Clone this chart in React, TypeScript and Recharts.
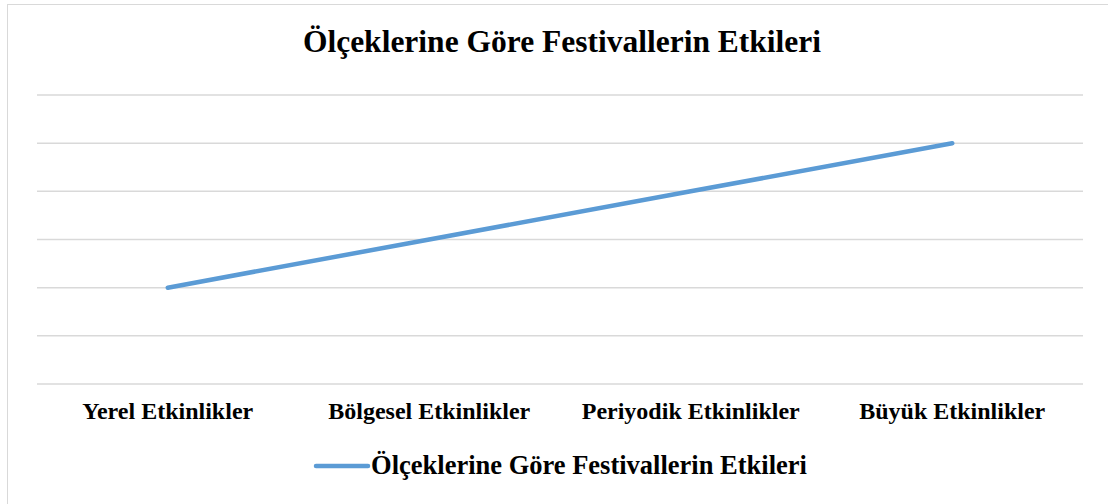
import { CartesianGrid, Legend, Line, LineChart, XAxis, YAxis } from "recharts";

const CATEGORIES = [
  "Yerel Etkinlikler",
  "Bölgesel Etkinlikler",
  "Periyodik Etkinlikler",
  "Büyük Etkinlikler",
];
const VALUES = [2, 3, 4, 5];
const Y_TICKS = [0, 1, 2, 3, 4, 5, 6];
const SERIES_NAME = "Ölçeklerine Göre Festivallerin Etkileri";
const TITLE = "Ölçeklerine Göre Festivallerin Etkileri";

const data = CATEGORIES.map((name, i) => ({ name, value: VALUES[i] }));

const FONT = '"Liberation Serif", "Times New Roman", serif';
const BLUE = "#5b9bd5";

function LegendContent() {
  return (
    <div
      style={{
        display: "flex",
        justifyContent: "center",
        alignItems: "center",
        fontFamily: FONT,
        fontWeight: "bold",
        fontSize: 26.5,
        color: "#000",
        marginTop: -4,
      }}
    >
      <svg width={58} height={10}>
        <line x1={3} y1={5} x2={55} y2={5} stroke={BLUE} strokeWidth={4.5} strokeLinecap="round" />
      </svg>
      <span>{SERIES_NAME}</span>
    </div>
  );
}

export default function App() {
  return (
    <div
      style={{
        position: "absolute",
        left: 0,
        top: 0,
        width: 1108,
        height: 504,
        background: "#fff",
        overflow: "hidden",
      }}
    >
      <div
        style={{
          position: "absolute",
          left: 7,
          top: 4,
          width: 1200,
          height: 600,
          border: "1.5px solid #d9d9d9",
        }}
      />
      <div
        style={{
          position: "absolute",
          left: 0,
          top: 24,
          width: 1124,
          textAlign: "center",
          fontFamily: FONT,
          fontWeight: "bold",
          fontSize: 31.5,
          color: "#000",
        }}
      >
        {TITLE}
      </div>
      <div style={{ position: "absolute", left: 0, top: 0 }}>
        <LineChart
          width={1108}
          height={504}
          data={data}
          margin={{ top: 95, right: 25, left: 37, bottom: 0 }}
        >
          <CartesianGrid vertical={false} stroke="#d9d9d9" strokeWidth={1.5} />
          <XAxis
            dataKey="name"
            scale="band"
            axisLine={false}
            tickLine={false}
            height={70}
            tick={{ fontFamily: FONT, fontWeight: "bold", fontSize: 24, fill: "#000" }}
            tickMargin={12}
            interval={0}
          />
          <YAxis hide domain={[0, 6]} ticks={Y_TICKS} width={0} />
          <Legend verticalAlign="bottom" height={50} content={<LegendContent />} />
          <Line
            type="linear"
            dataKey="value"
            name={SERIES_NAME}
            stroke={BLUE}
            strokeWidth={4.5}
            strokeLinecap="round"
            dot={false}
            activeDot={false}
            isAnimationActive={false}
          />
        </LineChart>
      </div>
    </div>
  );
}
